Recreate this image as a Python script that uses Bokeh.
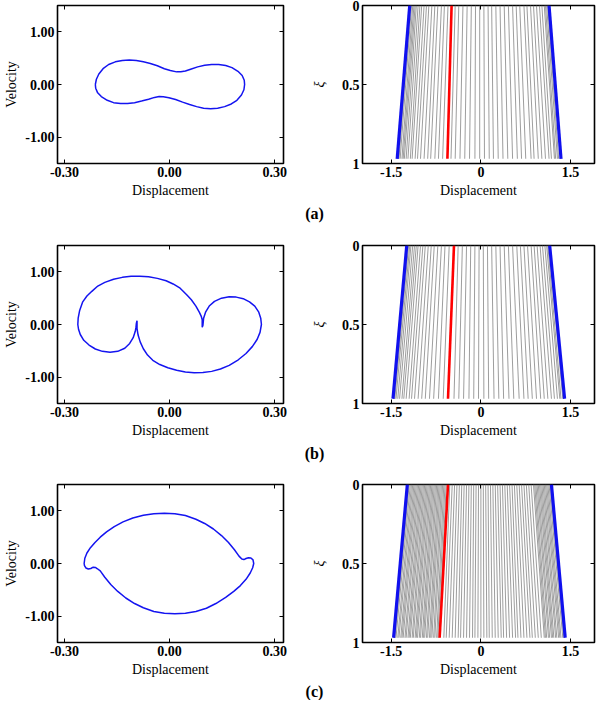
from bokeh.plotting import figure
from bokeh.models import Range1d, FixedTicker, LinearAxis, CustomJSTickFormatter
from bokeh.layouts import column, row
from bokeh.embed import file_html
from bokeh.resources import INLINE
from bokeh.core.properties import value

# ---------------- data ----------------
# phase portraits (displacement, velocity)
pa_x = [-0.212, -0.209, -0.202, -0.190, -0.174, -0.155, -0.135, -0.115, -0.095, -0.075, -0.055, -0.035, -0.015, 0.002, 0.020, 0.032,
        0.045, 0.060, 0.080, 0.100, 0.120, 0.140, 0.160, 0.178, 0.195, 0.207, 0.213, 0.214,
        0.212, 0.205, 0.192, 0.176, 0.157, 0.137, 0.117, 0.097, 0.077, 0.057, 0.037, 0.017, -0.002, -0.018, -0.030,
        -0.043, -0.060, -0.080, -0.100, -0.120, -0.140, -0.160, -0.178, -0.195, -0.206, -0.211, -0.212]
pa_y = [0.00, 0.10, 0.20, 0.30, 0.38, 0.43, 0.455, 0.463, 0.455, 0.43, 0.40, 0.355, 0.30, 0.265, 0.24, 0.24,
        0.255, 0.29, 0.335, 0.365, 0.38, 0.38, 0.36, 0.32, 0.25, 0.17, 0.08, 0.00,
        -0.10, -0.20, -0.30, -0.37, -0.42, -0.45, -0.46, -0.45, -0.42, -0.38, -0.335, -0.285, -0.25, -0.232, -0.23,
        -0.245, -0.28, -0.315, -0.345, -0.36, -0.36, -0.345, -0.30, -0.23, -0.15, -0.07, 0.00]

pb_x = [-0.262, -0.261, -0.257, -0.248, -0.236, -0.222, -0.205, -0.185, -0.160, -0.135, -0.110, -0.085, -0.060, -0.035, -0.010,
        0.010, 0.030, 0.048, 0.062, 0.075, 0.085, 0.090, 0.093, 0.093, 0.093, 0.095, 0.096, 0.097, 0.103, 0.113, 0.128,
        0.148, 0.170, 0.190, 0.210, 0.228, 0.243, 0.254, 0.260, 0.262, 0.258, 0.250, 0.236, 0.218, 0.196, 0.170, 0.145,
        0.120, 0.095, 0.070, 0.045, 0.020, -0.005, -0.028, -0.048, -0.063, -0.075, -0.084, -0.090, -0.093, -0.093,
        -0.093, -0.095, -0.096, -0.098, -0.104, -0.114, -0.128, -0.148, -0.170, -0.192, -0.212, -0.230, -0.245, -0.255,
        -0.260, -0.262]
pb_y = [0.00, 0.12, 0.26, 0.43, 0.54, 0.63, 0.73, 0.80, 0.86, 0.895, 0.914, 0.918, 0.908, 0.876, 0.83,
        0.77, 0.69, 0.57, 0.47, 0.35, 0.23, 0.16, 0.09, 0.00, -0.05, -0.02, 0.05, 0.12, 0.24, 0.35, 0.44,
        0.50, 0.525, 0.52, 0.49, 0.43, 0.35, 0.24, 0.12, 0.00, -0.15, -0.28, -0.42, -0.55, -0.67, -0.775, -0.845,
        -0.89, -0.912, -0.916, -0.90, -0.87, -0.82, -0.76, -0.68, -0.58, -0.46, -0.33, -0.20, -0.08, 0.02,
        0.07, 0.02, -0.05, -0.13, -0.25, -0.36, -0.45, -0.51, -0.527, -0.51, -0.465, -0.39, -0.30, -0.19,
        -0.09, 0.00]

pc_x = [-0.244, -0.242, -0.236, -0.226, -0.213, -0.198, -0.180, -0.158, -0.133, -0.105, -0.075, -0.045, -0.015, 0.015,
        0.045, 0.075, 0.100, 0.125, 0.148, 0.168, 0.185, 0.198, 0.206, 0.212, 0.218, 0.225, 0.232, 0.238, 0.240,
        0.237, 0.230, 0.218, 0.202, 0.183, 0.160, 0.132, 0.105, 0.075, 0.045, 0.015, -0.015, -0.045, -0.075, -0.100,
        -0.125, -0.148, -0.168, -0.185, -0.198, -0.206, -0.212, -0.218, -0.225, -0.232, -0.239, -0.243, -0.244]
pc_y = [0.00, 0.10, 0.20, 0.30, 0.40, 0.50, 0.60, 0.70, 0.79, 0.865, 0.915, 0.945, 0.955, 0.945,
        0.91, 0.84, 0.76, 0.655, 0.53, 0.40, 0.26, 0.14, 0.085, 0.075, 0.095, 0.11, 0.105, 0.07, 0.00,
        -0.08, -0.18, -0.30, -0.42, -0.53, -0.645, -0.76, -0.85, -0.91, -0.945, -0.955, -0.945, -0.91, -0.84, -0.76,
        -0.655, -0.53, -0.40, -0.26, -0.14, -0.10, -0.075, -0.07, -0.095, -0.105, -0.085, -0.04, 0.00]

# snapshots of displacement along xi: position at xi = 0 (top) and at xi end (bottom)
xi_span = [0.0, 0.97]

a_top = [-1.18, -1.16, -1.14, -1.12, -1.10, -1.08, -1.05, -1.02, -0.99, -0.95, -0.91, -0.87, -0.82, -0.77, -0.72,
         -0.66, -0.61, -0.55, -0.43, -0.37, -0.30, -0.23, -0.16, -0.09, -0.02, 0.05, 0.12, 0.18, 0.25, 0.32, 0.39,
         0.46, 0.53, 0.59, 0.65, 0.72, 0.77, 0.83, 0.88, 0.93, 0.98, 1.02, 1.06, 1.08, 1.10, 1.12]
a_bot = [-1.37, -1.35, -1.32, -1.30, -1.28, -1.25, -1.22, -1.18, -1.15, -1.10, -1.06, -1.01, -0.95, -0.89, -0.84,
         -0.77, -0.71, -0.64, -0.50, -0.43, -0.35, -0.27, -0.19, -0.10, -0.02, 0.06, 0.14, 0.21, 0.29, 0.37, 0.45,
         0.53, 0.61, 0.68, 0.75, 0.84, 0.89, 0.96, 1.02, 1.08, 1.14, 1.18, 1.23, 1.25, 1.28, 1.30]
a_blue_top = [-1.19, 1.14]
a_blue_bot = [-1.40, 1.34]
a_red = [-0.49, -0.56]

b_top = [-1.23, -1.21, -1.19, -1.17, -1.14, -1.11, -1.08, -1.05, -1.01, -0.97, -0.93, -0.88, -0.83, -0.78, -0.72,
         -0.66, -0.60, -0.53, -0.38, -0.31, -0.24, -0.17, -0.10, -0.03, 0.04, 0.11, 0.18, 0.25, 0.32, 0.39, 0.46,
         0.53, 0.60, 0.66, 0.72, 0.78, 0.84, 0.89, 0.94, 0.99, 1.03, 1.07, 1.10, 1.12, 1.14]
b_bot = [-1.46, -1.44, -1.42, -1.39, -1.36, -1.32, -1.29, -1.25, -1.20, -1.16, -1.11, -1.05, -0.99, -0.93, -0.86,
         -0.79, -0.71, -0.63, -0.45, -0.37, -0.29, -0.20, -0.12, -0.04, 0.05, 0.13, 0.22, 0.30, 0.38, 0.47, 0.55,
         0.64, 0.72, 0.79, 0.86, 0.93, 1.00, 1.06, 1.12, 1.18, 1.23, 1.28, 1.32, 1.34, 1.37]
b_blue_top = [-1.24, 1.15]
b_blue_bot = [-1.47, 1.40]
b_red = [-0.45, -0.55]

c_top = [-1.22, -1.20, -1.18, -1.16, -1.14, -1.12, -1.10, -1.08, -1.06, -1.04, -1.02, -1.00, -0.98, -0.96, -0.94,
         -0.92, -0.90, -0.88, -0.86, -0.84, -0.82, -0.80, -0.78, -0.76, -0.74, -0.72, -0.70, -0.68, -0.66, -0.64,
         -0.62, -0.60, -0.58,
         -0.52, -0.48, -0.44, -0.40, -0.36, -0.32, -0.28, -0.24, -0.20, -0.16, -0.12, -0.08, -0.04, 0.00, 0.04,
         0.08, 0.12, 0.16, 0.20, 0.24, 0.28, 0.32, 0.36, 0.40, 0.44, 0.48, 0.52, 0.56, 0.60, 0.64, 0.68, 0.72,
         0.76, 0.80, 0.84,
         0.88, 0.90, 0.92, 0.94, 0.96, 0.98, 1.00, 1.02, 1.04, 1.06, 1.08, 1.10, 1.12, 1.14, 1.16]
c_bot = [-1.46, -1.44, -1.42, -1.39, -1.37, -1.34, -1.32, -1.30, -1.27, -1.25, -1.22, -1.20, -1.18, -1.15, -1.13,
         -1.10, -1.08, -1.06, -1.03, -1.01, -0.98, -0.96, -0.94, -0.91, -0.89, -0.86, -0.84, -0.82, -0.79, -0.77,
         -0.74, -0.72, -0.70,
         -0.62, -0.58, -0.53, -0.48, -0.43, -0.38, -0.34, -0.29, -0.24, -0.19, -0.14, -0.10, -0.05, 0.00, 0.05,
         0.10, 0.14, 0.19, 0.24, 0.29, 0.34, 0.38, 0.43, 0.48, 0.53, 0.58, 0.62, 0.67, 0.72, 0.77, 0.82, 0.86,
         0.91, 0.96, 1.01,
         1.06, 1.08, 1.10, 1.13, 1.15, 1.18, 1.20, 1.22, 1.25, 1.27, 1.30, 1.32, 1.34, 1.37, 1.39]
c_blue_top = [-1.23, 1.18]
c_blue_bot = [-1.46, 1.41]
c_red = [-0.55, -0.69]

left_xticks = [-0.3, 0.0, 0.3]
left_yticks = [-1.0, 0.0, 1.0]
right_xticks = [-1.5, 0.0, 1.5]
right_yticks = [0.0, 0.5, 1.0]
panel_labels = ["(a)", "(b)", "(c)"]

FONT = "Liberation Serif"
BLUE = "#1414f0"
FRAME_H = 158


def common_style(p, xticks, yticks, fmt_code):
    p.grid.visible = False
    p.outline_line_color = "black"
    p.outline_line_width = 1.6
    p.background_fill_color = "white"
    p.border_fill_color = "white"
    for ax, ticks in ((p.xaxis[0], xticks), (p.yaxis[0], yticks)):
        ax.ticker = FixedTicker(ticks=ticks, minor_ticks=[])
        ax.formatter = CustomJSTickFormatter(code=fmt_code)
        ax.major_tick_in = 4
        ax.major_tick_out = 0
        ax.minor_tick_line_color = None
        ax.axis_line_color = None
        ax.major_label_standoff = 3
        ax.major_label_text_font = FONT
        ax.major_label_text_font_style = "bold"
        ax.major_label_text_font_size = "14px"
        ax.major_label_text_color = "black"
        ax.axis_label_text_font = FONT
        ax.axis_label_text_font_style = "normal"
        ax.axis_label_text_font_size = "14px"
        ax.axis_label_text_color = "black"
        ax.axis_label_standoff = 3
    # mirrored inner ticks on top and right
    for loc, ticks in (("above", xticks), ("right", yticks)):
        m = LinearAxis(ticker=FixedTicker(ticks=ticks, minor_ticks=[]),
                       formatter=CustomJSTickFormatter(code="return '';"),
                       major_label_text_font_size="0px", major_label_standoff=0,
                       major_tick_in=4, major_tick_out=0, axis_line_color=None,
                       minor_tick_line_color=None)
        p.add_layout(m, loc)


def left_panel(px, py, top_border):
    p = figure(width=308, height=top_border + FRAME_H + 40,
               x_range=Range1d(-0.32, 0.325), y_range=Range1d(-1.5, 1.5),
               output_backend="svg", toolbar_location=None,
               min_border_left=57, min_border_right=25,
               min_border_top=top_border, min_border_bottom=40,
               x_axis_label="Displacement", y_axis_label="Velocity")
    common_style(p, left_xticks, left_yticks, "return tick.toFixed(2);")
    p.line(px, py, line_color=BLUE, line_width=1.5)
    return p


def right_panel(tops, bots, blue_top, blue_bot, red, top_border):
    p = figure(width=294, height=top_border + FRAME_H + 40,
               x_range=Range1d(-1.98, 1.90), y_range=Range1d(1.0, 0.0),
               output_backend="svg", toolbar_location=None,
               min_border_left=50, min_border_right=8,
               min_border_top=top_border, min_border_bottom=40,
               x_axis_label="Displacement", y_axis_label="ξ")
    common_style(p, right_xticks, right_yticks, "return tick.toString();")
    p.yaxis[0].axis_label_text_font_style = "italic"
    p.yaxis[0].axis_label_standoff = 12
    n = len(tops)
    p.segment(x0=tops, y0=[xi_span[0]] * n, x1=bots, y1=[xi_span[1]] * n,
              line_color="#858585", line_width=1.0, line_alpha=0.8)
    p.segment(x0=blue_top, y0=[xi_span[0]] * 2, x1=blue_bot, y1=[xi_span[1]] * 2,
              line_color="#1010ee", line_width=3.2)
    p.segment(x0=[red[0]], y0=[xi_span[0]], x1=[red[1]], y1=[xi_span[1]],
              line_color="#ff0000", line_width=2.6)
    return p


def label_fig(txt, h, yc):
    q = figure(width=602, height=h, x_range=Range1d(0, 602), y_range=Range1d(h, 0),
               output_backend="svg", toolbar_location=None, min_border=0,
               x_axis_type=None, y_axis_type=None)
    q.grid.visible = False
    q.outline_line_color = None
    q.text(x=[314], y=[yc], text=[txt], text_align="center", text_baseline="middle",
           text_font=value(FONT), text_font_style="bold", text_font_size="16px",
           text_color="black")
    return q


row_a = row(left_panel(pa_x, pa_y, 5), right_panel(a_top, a_bot, a_blue_top, a_blue_bot, a_red, 5))
row_b = row(left_panel(pb_x, pb_y, 22), right_panel(b_top, b_bot, b_blue_top, b_blue_bot, b_red, 22))
row_c = row(left_panel(pc_x, pc_y, 21), right_panel(c_top, c_bot, c_blue_top, c_blue_bot, c_red, 21))

layout = column(row_a, label_fig(panel_labels[0], 20, 10),
                row_b, label_fig(panel_labels[1], 20, 10),
                row_c, label_fig(panel_labels[2], 18, 9))

open("out.html", "w").write(file_html(layout, INLINE))
